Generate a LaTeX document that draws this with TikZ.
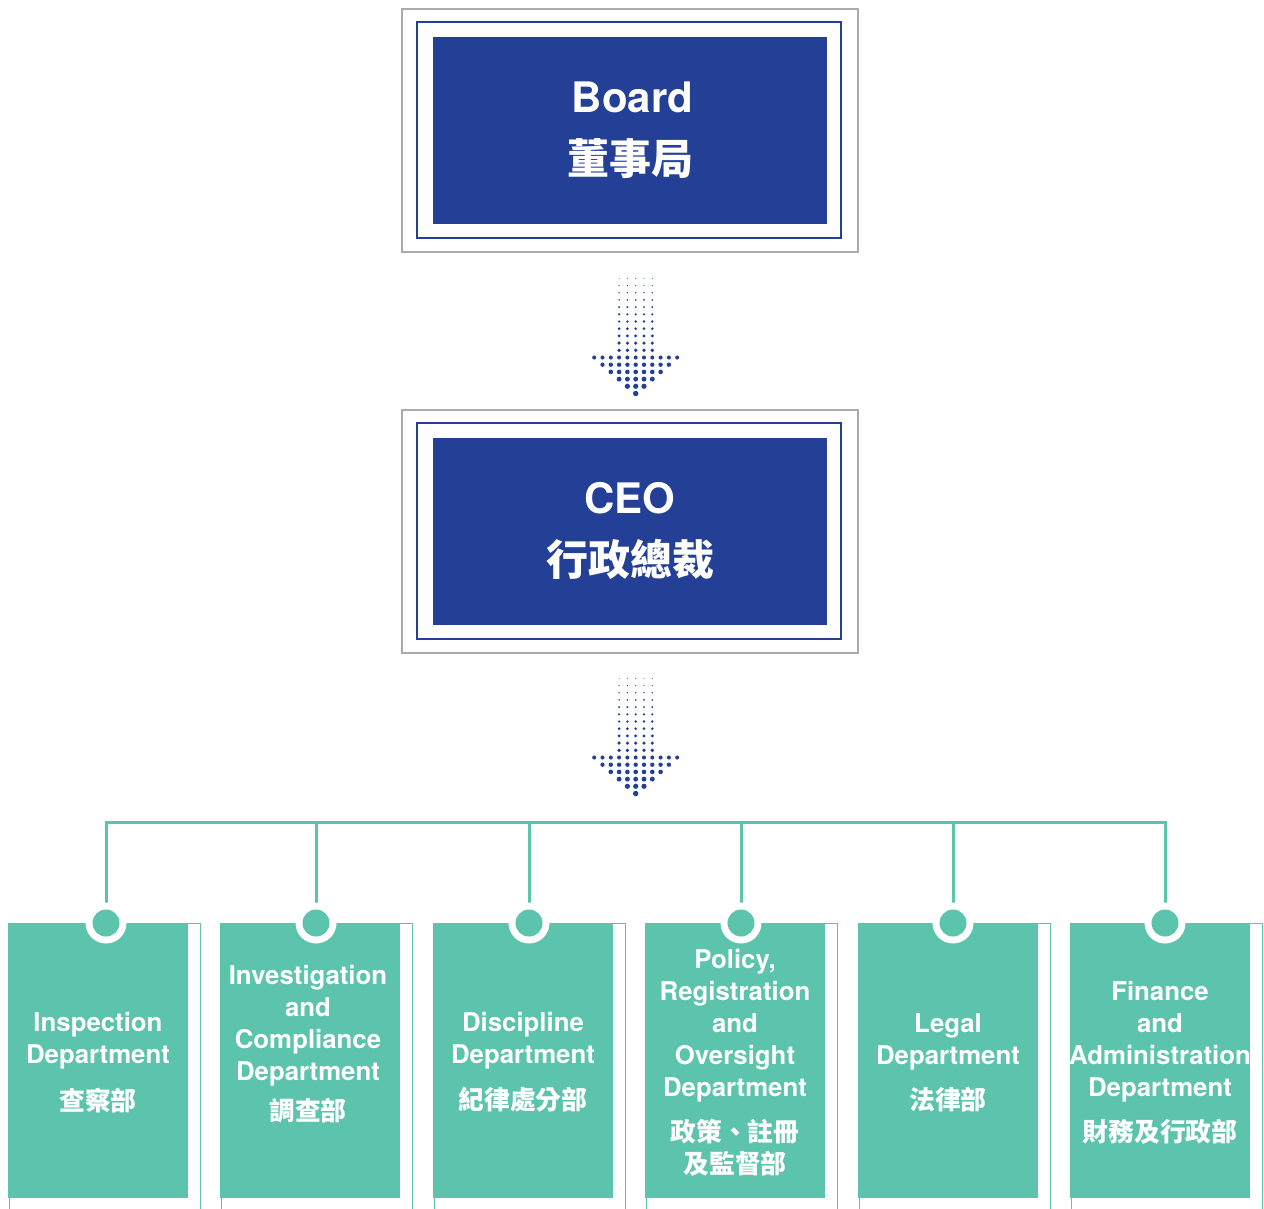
\documentclass[tikz,border=0pt]{standalone}
\usepackage{fontspec}
\setmainfont{TeX Gyre Heros}
\newfontfamily\cjk{Noto Sans CJK TC}
\usetikzlibrary{backgrounds}
\definecolor{cblue}{HTML}{233F96}
\definecolor{cteal}{HTML}{5CC3AC}
\definecolor{cgray}{HTML}{ABABAB}
\begin{document}
\begin{tikzpicture}[x=1pt,y=-1pt,
  bluebox/.style={fill=cblue, minimum width=394pt, minimum height=187pt, inner sep=0pt,
    text=white, align=center, font=\fontsize{42}{62}\selectfont\bfseries},
  blueframe/.style={draw=cblue, line width=2pt},
  grayframe/.style={draw=cgray, line width=2pt},
  deptbox/.style={fill=cteal, minimum width=180pt, minimum height=275pt, inner sep=0pt},
  deptframe/.style={draw=cteal, line width=1.3pt},
  deptlabel/.style={text=white, align=center, inner sep=0pt,
    font=\fontsize{25.8}{32}\selectfont\bfseries},
  bus/.style={draw=cteal, line width=3pt},
  dotfill/.style={fill=cblue}
]
\useasboundingbox (0,0) rectangle (1264,1208);

% ---- top boxes
\node[bluebox] (board) at (630,130) {\hspace*{5pt}Board\\{\cjk 董事局}};
\draw[blueframe] ([shift={(-15.4,-14)}]board.north west) rectangle ([shift={(14,14)}]board.south east);
\draw[grayframe] ([shift={(-31,-27.4)}]board.north west) rectangle ([shift={(30.7,28.6)}]board.south east);

\node[bluebox] (ceo) at (630,531) {CEO\\{\cjk 行政總裁}};
\draw[blueframe] ([shift={(-15.4,-14)}]ceo.north west) rectangle ([shift={(14,14)}]ceo.south east);
\draw[grayframe] ([shift={(-31,-27.4)}]ceo.north west) rectangle ([shift={(30.7,28.6)}]ceo.south east);

% ---- dotted arrows
\foreach \ay in {278.3,678.3}{
  \foreach \i in {0,...,10}{
    \foreach \j in {-2,...,2}{
      \fill[dotfill] (635.7+8.3*\j, \ay+7.2*\i) circle[radius={0.5pt+0.14pt*\i}];
    }
  }
  \foreach \i/\w in {11/5,12/4,13/3,14/2,15/1}{
    \foreach \j in {-\w,...,\w}{
      \fill[dotfill] (635.7+8.3*\j, \ay+7.2*\i) circle[radius={0.5pt+0.14pt*\i}];
    }
  }
  \fill[dotfill] (635.7, \ay+7.2*16) circle[radius=2.74pt];
}

% ---- departments
\coordinate (busy) at (0,822);
\coordinate (p1) at (106,923);
\coordinate (p2) at (316,923);
\coordinate (p3) at (529,923);
\coordinate (p4) at (741,923);
\coordinate (p5) at (953,923);
\coordinate (p6) at (1165,923);

\node[deptbox] (d1) at (98,1060.5) {};
\node[deptbox] (d2) at (310,1060.5) {};
\node[deptbox] (d3) at (523,1060.5) {};
\node[deptbox] (d4) at (735,1060.5) {};
\node[deptbox] (d5) at (948,1060.5) {};
\node[deptbox] (d6) at (1160,1060.5) {};

\begin{scope}[on background layer]
  \foreach \d in {d1,d2,d3,d4,d5,d6}{
    \draw[deptframe] ([shift={(2,1)}]\d.north west) rectangle ([shift={(12,14)}]\d.south east);
  }
  \draw[bus] (p1) -- (p1 |- busy) -- (p6 |- busy) -- (p6);
  \foreach \p in {p2,p3,p4,p5}{
    \draw[bus] (\p) -- (\p |- busy);
  }
\end{scope}

\foreach \p in {p1,p2,p3,p4,p5,p6}{
  \fill[white] (\p) circle[radius=20.5pt];
  \fill[cteal] (\p) circle[radius=13.5pt];
}

\node[deptlabel] (t1) at (98,1063) {Inspection\\Department\\[15pt]{\cjk 查察部}};
\node[deptlabel] (t2) at (308,1044.5) {Investigation\\and\\Compliance\\Department\\[8pt]{\cjk 調查部}};
\node[deptlabel] (t3) at (523,1062.5) {Discipline\\Department\\[14pt]{\cjk 紀律處分部}};
\node[deptlabel] (t4) at (735,1063) {Policy,\\Registration\\and\\Oversight\\Department\\[13pt]{\cjk 政策、註冊}\\{\cjk 及監督部}};
\node[deptlabel] (t5) at (948,1063) {Legal\\Department\\[13pt]{\cjk 法律部}};
\node[deptlabel] (t6) at (1160,1063) {Finance\\and\\Administration\\Department\\[13pt]{\cjk 財務及行政部}};
\end{tikzpicture}
\end{document}
